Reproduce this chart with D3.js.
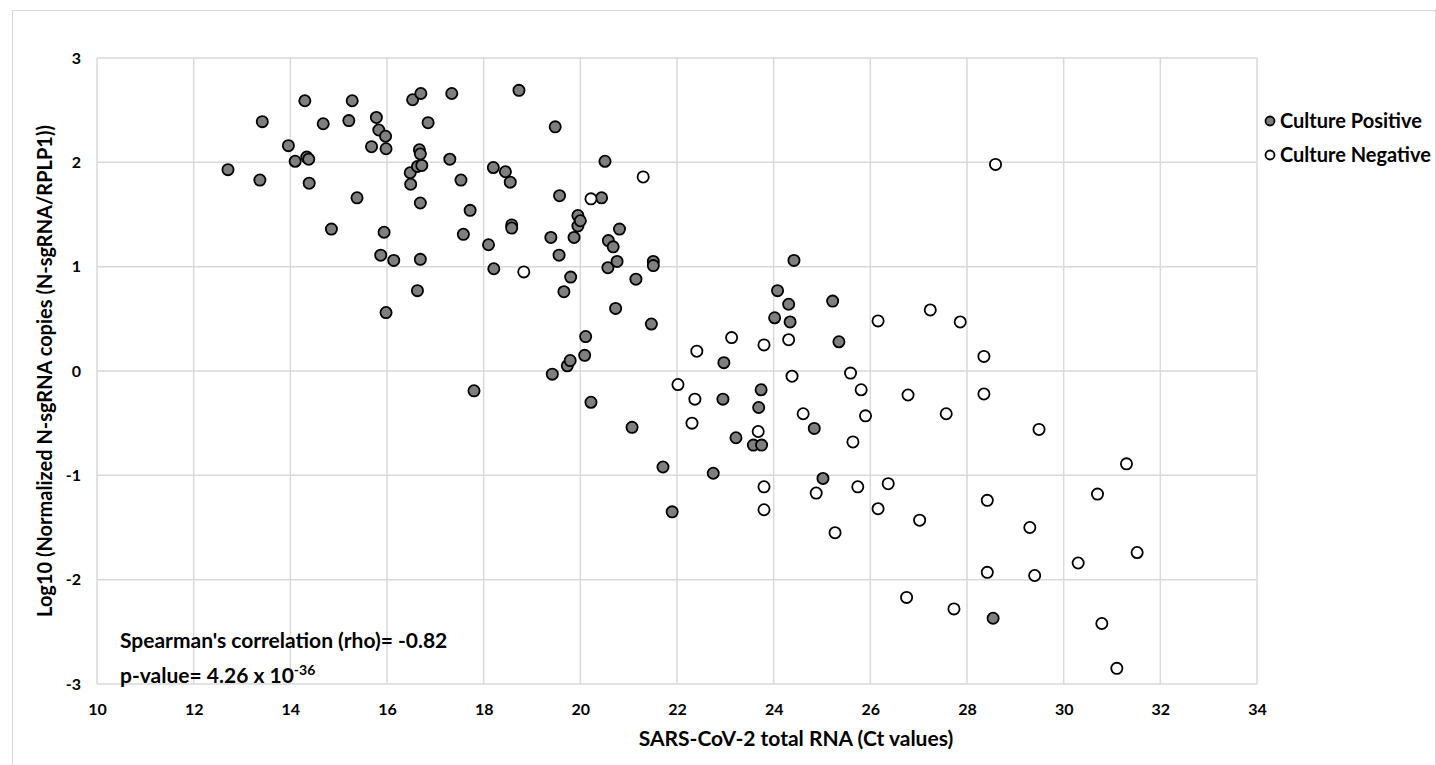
<!DOCTYPE html>
<html><head><meta charset="utf-8">
<script src="https://cdn.jsdelivr.net/npm/d3@7"></script>
<style>
html,body{margin:0;padding:0;background:#fff;}
svg text{font-family:Lato,"Open Sans",sans-serif;font-weight:bold;fill:#000;}
</style></head>
<body>
<svg id="chart" width="1436" height="765"></svg>
<script>
// Culture Positive (filled)
const posCt = [12.71,13.37,13.42,13.96,14.10,14.30,14.34,14.38,14.39,14.68,14.85,15.21,15.28,15.38,15.68,15.78,15.83,15.87,15.94,15.97,15.98,15.98,16.14,16.48,16.49,16.53,16.63,16.63,16.67,16.69,16.69,16.69,16.70,16.72,16.85,17.30,17.34,17.53,17.58,17.72,17.80,18.10,18.20,18.21,18.45,18.55,18.58,18.58,18.73,19.39,19.42,19.48,19.56,19.57,19.66,19.73,19.79,19.80,19.87,19.95,19.95,20.00,20.09,20.11,20.22,20.44,20.51,20.57,20.58,20.68,20.73,20.76,20.81,21.07,21.15,21.47,21.51,21.51,21.71,21.90,22.75,22.95,22.97,23.22,23.58,23.69,23.74,23.75,24.02,24.08,24.31,24.34,24.42,24.84,25.02,25.22,25.35,28.54];
const posLog = [1.93,1.83,2.39,2.16,2.01,2.59,2.05,2.03,1.80,2.37,1.36,2.40,2.59,1.66,2.15,2.43,2.31,1.11,1.33,2.25,2.13,0.56,1.06,1.90,1.79,2.60,1.96,0.77,2.12,2.08,1.61,1.07,2.66,1.97,2.38,2.03,2.66,1.83,1.31,1.54,-0.19,1.21,1.95,0.98,1.91,1.81,1.40,1.37,2.69,1.28,-0.03,2.34,1.11,1.68,0.76,0.05,0.10,0.90,1.28,1.49,1.39,1.44,0.15,0.33,-0.30,1.66,2.01,0.99,1.25,1.19,0.60,1.05,1.36,-0.54,0.88,0.45,1.05,1.01,-0.92,-1.35,-0.98,-0.27,0.08,-0.64,-0.71,-0.35,-0.18,-0.71,0.51,0.77,0.64,0.47,1.06,-0.55,-1.03,0.67,0.28,-2.37];
// Culture Negative (open)
const negCt = [18.83,20.22,21.30,22.02,22.31,22.37,22.41,23.13,23.68,23.80,23.80,23.80,24.31,24.38,24.61,24.88,25.27,25.59,25.64,25.74,25.81,25.90,26.16,26.16,26.37,26.75,26.78,27.02,27.24,27.57,27.73,27.86,28.35,28.35,28.42,28.42,28.59,29.30,29.40,29.49,30.30,30.70,30.79,31.10,31.30,31.52];
const negLog = [0.95,1.65,1.86,-0.13,-0.50,-0.27,0.19,0.32,-0.58,0.25,-1.11,-1.33,0.30,-0.05,-0.41,-1.17,-1.55,-0.02,-0.68,-1.11,-0.18,-0.43,0.48,-1.32,-1.08,-2.17,-0.23,-1.43,0.585,-0.41,-2.28,0.47,0.14,-0.22,-1.24,-1.93,1.98,-1.50,-1.96,-0.56,-1.84,-1.18,-2.42,-2.85,-0.89,-1.74];
const xTicks = [10,12,14,16,18,20,22,24,26,28,30,32,34];
const yTicks = [-3,-2,-1,0,1,2,3];
const seriesNames = ["Culture Positive","Culture Negative"];
const xTitle = "SARS-CoV-2 total RNA (Ct values)";
const yTitle = "Log10 (Normalized N-sgRNA copies (N-sgRNA/RPLP1))";
const statLine1 = "Spearman's correlation (rho)= -0.82";
const statLine2 = "p-value= 4.26 x 10";
const statExp = "-36";

const svg = d3.select("#chart");
const L=97, R=1257, T=58, B=684;
const x = d3.scaleLinear().domain([10,34]).range([L,R]);
const y = d3.scaleLinear().domain([-3,3]).range([B,T]);
const grid = "#d9d9d9";

// outer frame
svg.append("rect").attr("x",12.5).attr("y",10.5).attr("width",1423).attr("height",760)
  .attr("fill","none").attr("stroke",grid).attr("stroke-width",1);

// gridlines
svg.append("g").selectAll("line").data(xTicks).join("line")
  .attr("x1",d=>x(d)).attr("x2",d=>x(d)).attr("y1",T).attr("y2",B)
  .attr("stroke",grid).attr("stroke-width",1.5);
svg.append("g").selectAll("line").data(yTicks).join("line")
  .attr("x1",L).attr("x2",R).attr("y1",d=>y(d)).attr("y2",d=>y(d))
  .attr("stroke",grid).attr("stroke-width",1.5);

// axes (labels only)
const xAxis = svg.append("g").attr("transform",`translate(0,${B})`)
  .call(d3.axisBottom(x).tickValues(xTicks).tickSize(0).tickPadding(20).tickFormat(d3.format("d")));
xAxis.select(".domain").remove();
xAxis.selectAll("text").style("font-size","16px");
const yAxis = svg.append("g").attr("transform",`translate(${L},0)`)
  .call(d3.axisLeft(y).tickValues(yTicks).tickSize(0).tickPadding(16).tickFormat(d=>d<0?"-"+Math.abs(d):d));
yAxis.select(".domain").remove();
yAxis.selectAll("text").style("font-size","16px");

// titles
svg.append("text").attr("x",796).attr("y",746).attr("text-anchor","middle")
  .style("font-size","21px").text(xTitle);
svg.append("text").attr("transform",`translate(52,${(T+B)/2}) rotate(-90)`).attr("text-anchor","middle")
  .style("font-size","20px").text(yTitle);

// points
const pos = posCt.map((c,i)=>({c, v:posLog[i]}));
const neg = negCt.map((c,i)=>({c, v:negLog[i]}));
svg.append("g").selectAll("circle").data(pos).join("circle")
  .attr("cx",d=>x(d.c)).attr("cy",d=>y(d.v)).attr("r",5.6)
  .attr("fill","#7f7f7f").attr("stroke","#000").attr("stroke-width",1.8);
svg.append("g").selectAll("circle").data(neg).join("circle")
  .attr("cx",d=>x(d.c)).attr("cy",d=>y(d.v)).attr("r",5.6)
  .attr("fill","#fff").attr("stroke","#000").attr("stroke-width",1.8);

// stats annotation
svg.append("text").attr("x",120).attr("y",648).style("font-size","21px").text(statLine1);
const t2 = svg.append("text").attr("x",120).attr("y",683).style("font-size","21px");
t2.append("tspan").text(statLine2);
t2.append("tspan").attr("dy",-8).style("font-size","14px").text(statExp);

// legend
const lg = svg.append("g");
const items = [{n:seriesNames[0],f:"#7f7f7f",yy:121},{n:seriesNames[1],f:"#fff",yy:155}];
items.forEach(it=>{
  lg.append("circle").attr("cx",1270).attr("cy",it.yy).attr("r",4.5)
    .attr("fill",it.f).attr("stroke","#000").attr("stroke-width",1.8);
  lg.append("text").attr("x",1280).attr("y",it.yy+7).style("font-size","20px").text(it.n);
});
</script>
</body></html>
